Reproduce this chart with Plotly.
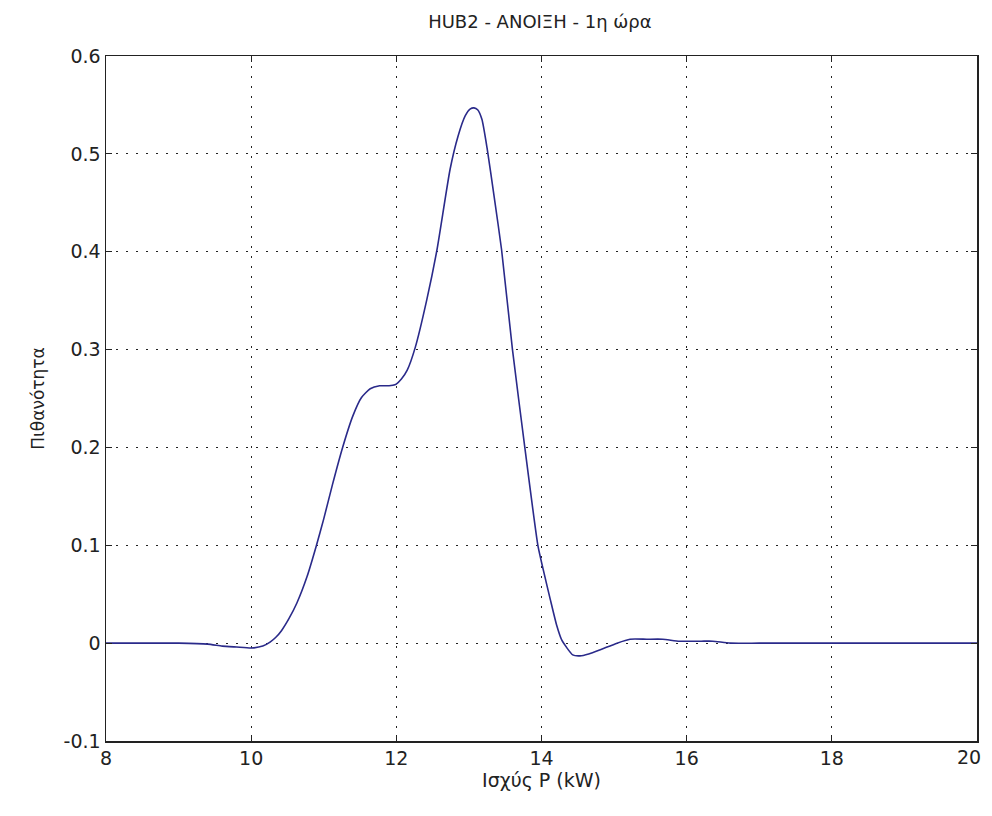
import plotly.graph_objects as go

# curve
power_kw = [8.0, 8.5, 9.0, 9.4, 9.6, 9.8, 10.0, 10.16, 10.26, 10.34, 10.42, 10.52, 10.63, 10.77,
            10.9, 11.0, 11.12, 11.26, 11.4, 11.52, 11.64, 11.77, 11.9, 11.98, 12.07, 12.15,
            12.26, 12.42, 12.56, 12.74, 12.85, 12.95, 13.02, 13.07, 13.12, 13.18, 13.25,
            13.35, 13.45, 13.6, 13.77, 13.95, 14.04, 14.12, 14.21, 14.28, 14.43, 14.53,
            14.65, 14.8, 15.04, 15.22, 15.45, 15.67, 15.9, 16.2, 16.36, 16.6, 17.0, 18.0,
            19.0, 20.0]
probability = [0.0, 0.0, 0.0, -0.001, -0.003, -0.004, -0.005, -0.003, 0.001, 0.006, 0.013, 0.025,
               0.041, 0.068, 0.1, 0.127, 0.162, 0.2, 0.232, 0.251, 0.26, 0.263, 0.263, 0.264,
               0.27, 0.279, 0.302, 0.351, 0.402, 0.484, 0.518, 0.539, 0.546, 0.547, 0.545,
               0.535, 0.506, 0.455, 0.402, 0.3, 0.2, 0.1, 0.07, 0.045, 0.018, 0.003, -0.012,
               -0.013, -0.011, -0.007, 0.0, 0.004, 0.004, 0.004, 0.002, 0.002, 0.002, 0.0,
               0.0, 0.0, 0.0, 0.0]

x_ticks = [8, 10, 12, 14, 16, 18, 20]
x_labels = ["8", "10", "12", "14", "16", "18", ""]  # "20" is added below so it is not clipped
y_ticks = [-0.1, 0, 0.1, 0.2, 0.3, 0.4, 0.5, 0.6]
y_labels = ["-0.1", "0", "0.1", "0.2", "0.3", "0.4", "0.5", "0.6"]

fig = go.Figure()
fig.add_trace(go.Scatter(x=power_kw, y=probability, mode="lines",
                         line=dict(color="#2a2a8a", width=1.6, shape="spline", smoothing=0.5),
                         showlegend=False))

axis_style = dict(showline=True, linecolor="#222", linewidth=1.5, mirror="allticks",
                  ticks="inside", ticklen=6, tickcolor="#222", automargin=False,
                  showgrid=True, gridcolor="#222", gridwidth=1.2, griddash="2px,8px",
                  zeroline=False, tickfont=dict(size=19, color="#222"))

fig.update_xaxes(range=[8, 20], tickvals=x_ticks, ticktext=x_labels, **axis_style,
                 title=dict(text="Ισχύς P (kW)", font=dict(size=19, color="#222"), standoff=4))
fig.update_yaxes(range=[-0.1, 0.6], tickvals=y_ticks, ticktext=y_labels, **axis_style,
                 title=dict(text="Πιθανότητα", font=dict(size=17, color="#222"), standoff=14))

# last x tick label, right-aligned at the axis end so it stays inside the figure
fig.add_annotation(x=x_ticks[-1], xref="x", y=0, yref="paper", text=str(x_ticks[-1]),
                   showarrow=False, xanchor="right", yanchor="top", xshift=6, yshift=-3,
                   font=dict(size=19, color="#222"))

# page keeps its 8px body margin, so the figure is 16px smaller than the window
fig.update_layout(
    width=976, height=800,
    margin=dict(l=98, r=7, t=48, b=67),
    plot_bgcolor="white", paper_bgcolor="white",
    font=dict(family="DejaVu Sans, Liberation Sans, sans-serif"),
    title=dict(text="HUB2 - ΑΝΟΙΞΗ - 1η ώρα", x=0.545, xanchor="center",
               y=0.983, yanchor="middle", font=dict(size=18, color="#222")),
)

fig.write_html("out.html", config={"staticPlot": True})
